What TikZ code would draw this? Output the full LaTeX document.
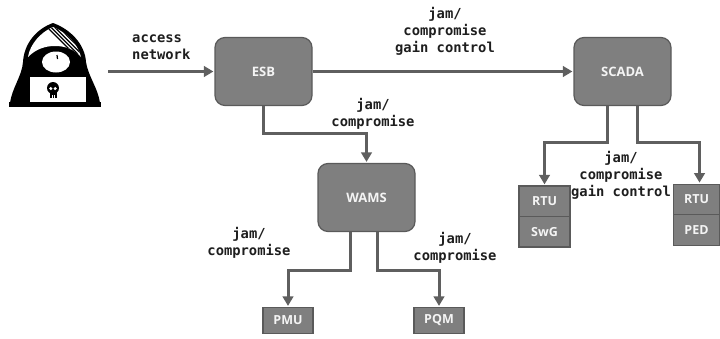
\documentclass[tikz,border=0pt]{standalone}
\usepackage{fontspec}
\setmainfont{Open Sans}
\newfontfamily\labelmono{DejaVu Sans Mono}
\usetikzlibrary{arrows.meta}

\definecolor{boxfill}{HTML}{7F7F7F}
\definecolor{boxline}{HTML}{5A5A5A}
\definecolor{wire}{HTML}{5F5F5F}
\definecolor{ink}{HTML}{1E1E1E}
\definecolor{boxtext}{HTML}{F4F4F4}

\tikzset{
  bigbox/.style={draw=boxline, fill=boxfill, line width=1.2pt, rounded corners=10pt,
    minimum width=97pt, minimum height=68pt, inner sep=0pt,
    font=\bfseries\fontsize{13}{15}\selectfont, text=boxtext},
  unitbox/.style={draw=boxline, fill=boxfill, line width=1.2pt,
    minimum width=50pt, minimum height=26pt, inner sep=0pt,
    font=\bfseries\fontsize{12.5}{14}\selectfont, text=boxtext},
  cell/.style={unitbox, minimum width=51pt, minimum height=30.5pt},
  link/.style={draw=wire, line width=3pt, shorten >=1pt,
    -{Triangle[length=9.5pt,width=10.5pt]}},
  tag/.style={font=\labelmono\bfseries\fontsize{13.8}{17}\selectfont, text=ink,
    align=center, inner sep=0pt, anchor=north},
  hoodtop/.style={insert path={(53,27) .. controls (41,32) and (30,44) .. (28,57)
    .. controls (36,49) and (45,46) .. (55,46)
    .. controls (65,46) and (74,49) .. (81,57)
    .. controls (78,44) and (66,32) .. (53,27) -- cycle}}
}

\begin{document}
\begin{tikzpicture}[x=1pt, y=-1pt]
\useasboundingbox (0,0) rectangle (720,338);

% ---- attacker icon ----
\fill[black] (53,23) .. controls (36,29) and (24,44) .. (23,62)
  .. controls (22,76) and (12,88) .. (10,103) -- (100,103)
  .. controls (98,88) and (88,76) .. (86,62)
  .. controls (85,44) and (70,29) .. (53,23) -- cycle;
\fill[white, hoodtop];
\begin{scope}
  \clip[hoodtop];
  \foreach \k in {0,...,4}
    \draw[black, line width=1.2pt] (44+3.8*\k,24) -- (74+3.8*\k,54);
\end{scope}
\fill[white] (56,62) ellipse [x radius=14, y radius=10.5];
\draw[black, line width=1.2pt] (57,55) -- (57.5,59);
\filldraw[fill=white, draw=black, line width=2.5pt] (29,76) rectangle (87,104);
\fill[black] (53,88) circle (6);
\fill[black] (49.5,91) rectangle (56.5,98);
\fill[white] (50.8,88.5) circle (1.7) (55.2,88.5) circle (1.7);
\draw[white, line width=0.6pt] (52,95) -- (52,98) (54,95) -- (54,98);
\fill[black] (9,102) rectangle (101,107);
\coordinate (hk) at (108,71.5);

% ---- system boxes ----
\node[bigbox] (esb)   at (263.5,71.5) {ESB};
\node[bigbox] (scada) at (622.5,71.5) {SCADA};
\node[bigbox] (wams)  at (366.5,197.5) {WAMS};

\node[unitbox] (pmu) at (288,320.5) {PMU};
\node[unitbox] (pqm) at (439,320.5) {PQM};

\node[cell] (rtuA) at (544.5,201.25) {RTU};
\node[cell] (swg)  at (544.5,231.75) {SwG};
\node[cell, minimum width=46pt] (rtuB) at (696.5,199.5) {RTU};
\node[cell, minimum width=46pt] (ped)  at (696.5,230) {PED};

% ---- connectors ----
\draw[link] (hk) -- (esb.west);
\draw[link] (esb.east) -- (scada.west);
\draw[link] (esb.south) -- ++(0,27) -| (wams.north);
\draw[link] ([xshift=-16pt]wams.south) -- ++(0,38) -| (pmu.north);
\draw[link] ([xshift=11pt]wams.south) -- ++(0,38) -| (pqm.north);
\draw[link] ([xshift=-15.5pt]scada.south) -- ++(0,36) -| (rtuA.north);
\draw[link] ([xshift=14.5pt]scada.south) -- ++(0,36) -| ([xshift=3pt]rtuB.north);

% ---- labels ----
\node[tag, anchor=north west, align=left] (lacc) at (132,34.5) {access\\network};
\node[tag] (ltop)   at (445,7)     {jam/\\compromise\\gain control};
\node[tag] (lesb)   at (373,98.5)  {jam/\\compromise};
\node[tag] (lscada) at (621,151)   {jam/\\compromise\\gain control};
\node[tag] (lwl)    at (249,227)   {jam/\\compromise};
\node[tag] (lwr)    at (455,232)   {jam/\\compromise};
\end{tikzpicture}
\end{document}
